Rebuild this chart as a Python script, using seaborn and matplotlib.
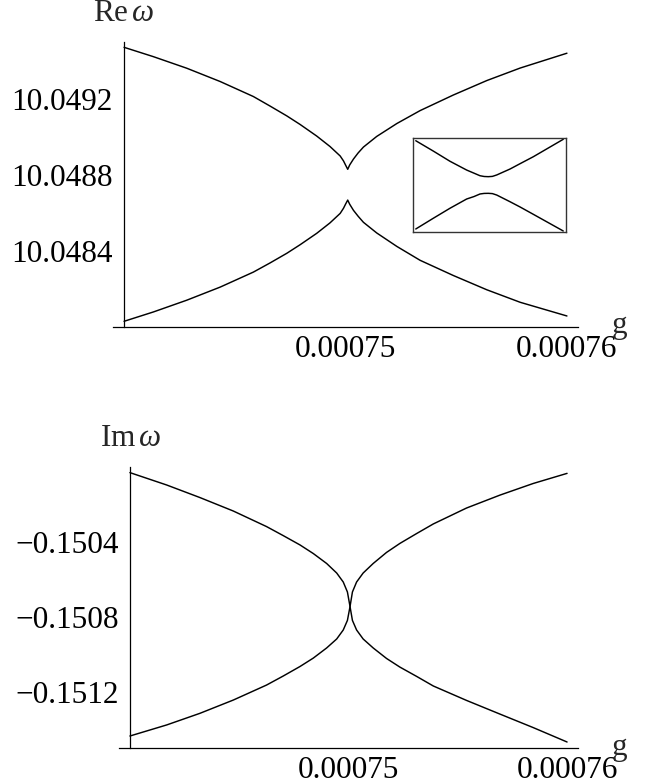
import matplotlib
matplotlib.use("Agg")
import matplotlib.pyplot as plt
import seaborn as sns
import pandas as pd

# ---------------- data ----------------
g_re = [0.00074000, 0.00074132, 0.00074283, 0.00074434, 0.00074584, 0.00074659,
        0.00074735, 0.00074795, 0.00074870, 0.00074930, 0.00074976, 0.00074991,
        0.00075000, 0.00075010, 0.00075019, 0.00075036, 0.00075057, 0.00075081,
        0.00075141, 0.00075232, 0.00075337, 0.00075487, 0.00075638, 0.00075789,
        0.00076000]
re_upper = [10.049472, 10.049423, 10.049362, 10.049292, 10.049213, 10.049163,
            10.049111, 10.049066, 10.049005, 10.048950, 10.048900, 10.048874,
            10.048853, 10.048830, 10.048853, 10.048884, 10.048916, 10.048947,
            10.049003, 10.049071, 10.049139, 10.049221, 10.049297, 10.049363,
            10.049441]
re_lower = [10.048030, 10.048079, 10.048141, 10.048210, 10.048289, 10.048337,
            10.048388, 10.048433, 10.048493, 10.048548, 10.048598, 10.048625,
            10.048646, 10.048668, 10.048646, 10.048614, 10.048583, 10.048551,
            10.048495, 10.048424, 10.048351, 10.048271, 10.048196, 10.048130,
            10.048058]

g_im = [0.00074000, 0.00074168, 0.00074320, 0.00074473, 0.00074625, 0.00074701,
        0.00074778, 0.00074839, 0.00074900, 0.00074946, 0.00074976, 0.00074995,
        0.00075007, 0.00075018, 0.00075037, 0.00075067, 0.00075113, 0.00075174,
        0.00075235, 0.00075312, 0.00075388, 0.00075540, 0.00075693, 0.00075845,
        0.00076000]
im_a = [-0.150030, -0.150096, -0.150163, -0.150235, -0.150318, -0.150366,
        -0.150416, -0.150462, -0.150515, -0.150566, -0.150614, -0.150667,
        -0.150745, -0.150819, -0.150870, -0.150918, -0.150966, -0.151022,
        -0.151068, -0.151118, -0.151169, -0.151246, -0.151319, -0.151391,
        -0.151468]
im_b = [-0.151436, -0.151377, -0.151315, -0.151244, -0.151164, -0.151116,
        -0.151065, -0.151020, -0.150966, -0.150918, -0.150870, -0.150819,
        -0.150745, -0.150667, -0.150614, -0.150566, -0.150515, -0.150456,
        -0.150408, -0.150355, -0.150304, -0.150219, -0.150150, -0.150088,
        -0.150034]

# inset (zoomed avoided crossing, relative units)
inset_x = [0.020, 0.134, 0.243, 0.352, 0.400, 0.439, 0.466, 0.493, 0.520,
           0.548, 0.635, 0.700, 0.787, 0.982]
inset_upper = [0.968, 0.859, 0.751, 0.658, 0.625, 0.598, 0.590, 0.588, 0.591,
               0.606, 0.669, 0.725, 0.799, 0.983]
inset_lower = [0.035, 0.148, 0.254, 0.352, 0.378, 0.405, 0.411, 0.412, 0.409,
               0.394, 0.323, 0.268, 0.190, 0.014]

re_ticks = [10.0484, 10.0488, 10.0492]
re_ticklabels = ["10.0484", "10.0488", "10.0492"]
im_ticks = [-0.1512, -0.1508, -0.1504]
im_ticklabels = ["\u22120.1512", "\u22120.1508", "\u22120.1504"]
g_ticks = [0.00075, 0.00076]
g_ticklabels = ["0.00075", "0.00076"]

# ---------------- style ----------------
sns.set_theme(style="white")
plt.rcParams["font.family"] = ["Liberation Serif", "DejaVu Serif"]
plt.rcParams["mathtext.fontset"] = "custom"
plt.rcParams["mathtext.rm"] = "Liberation Serif"
plt.rcParams["mathtext.it"] = "Liberation Serif:italic"

W, H = 646, 784
fig = plt.figure(figsize=(W / 100, H / 100), dpi=100)
fig.patch.set_facecolor("white")


def px_axes(x0, y0, x1, y1):
    return fig.add_axes([x0 / W, 1 - y1 / H, (x1 - x0) / W, (y1 - y0) / H])


FS = 22.5
LW = 1.05


def style_axes(ax, ylim, yticks, yticklabels):
    ax.set_facecolor("white")
    ax.set_xlim(0.0007395, 0.0007605)
    ax.set_ylim(*ylim)
    for s in ["top", "right"]:
        ax.spines[s].set_visible(False)
    ax.spines["left"].set_position(("data", 0.00074))
    for s in ["left", "bottom"]:
        ax.spines[s].set_color("black")
        ax.spines[s].set_linewidth(0.9)
    ax.set_xticks(g_ticks)
    ax.set_xticklabels(g_ticklabels)
    ax.set_yticks(yticks)
    ax.set_yticklabels(yticklabels)
    ax.tick_params(axis="both", direction="in", length=3, width=0.8,
                   colors="black", labelsize=FS)
    ax.tick_params(axis="x", pad=6)
    ax.tick_params(axis="y", pad=8)
    ax.set_xlabel("")
    ax.set_ylabel("")
    ax.grid(False)


# ---------------- top panel: Re omega ----------------
ax1 = px_axes(113, 42, 578, 327)
df_re = pd.DataFrame({"g": g_re + g_re,
                      "v": re_upper + re_lower,
                      "b": ["u"] * len(g_re) + ["l"] * len(g_re)})
sns.lineplot(data=df_re, x="g", y="v", units="b", estimator=None, sort=False,
             color="black", lw=LW, ax=ax1, legend=False)
style_axes(ax1, (10.0480, 10.0495), re_ticks, re_ticklabels)

# inset
axi = px_axes(412.7, 137.7, 566, 232.3)
df_in = pd.DataFrame({"x": inset_x + inset_x,
                      "v": inset_upper + inset_lower,
                      "b": ["u"] * len(inset_x) + ["l"] * len(inset_x)})
sns.lineplot(data=df_in, x="x", y="v", units="b", estimator=None, sort=False,
             color="black", lw=LW, ax=axi, legend=False)
axi.set_xlim(0, 1)
axi.set_ylim(0, 1)
axi.set_xticks([])
axi.set_yticks([])
axi.set_xlabel("")
axi.set_ylabel("")
axi.set_facecolor("white")
for s in axi.spines.values():
    s.set_visible(True)
    s.set_color("#333333")
    s.set_linewidth(1.0)

# ---------------- bottom panel: Im omega ----------------
ax2 = px_axes(119, 467, 578, 748)
df_im = pd.DataFrame({"g": g_im + g_im,
                      "v": im_a + im_b,
                      "b": ["a"] * len(g_im) + ["b"] * len(g_im)})
sns.lineplot(data=df_im, x="g", y="v", units="b", estimator=None, sort=False,
             color="black", lw=LW, ax=ax2, legend=False)
style_axes(ax2, (-0.1515, -0.1500), im_ticks, im_ticklabels)

# ---------------- axis labels ----------------
fig.text(124 / W, 1 - 21 / H, r"$\mathrm{Re}\,\omega$", ha="center",
         va="baseline", fontsize=FS)
fig.text(131 / W, 1 - 446 / H, r"$\mathrm{Im}\,\omega$", ha="center",
         va="baseline", fontsize=FS)
fig.text(612 / W, 1 - 333 / H, "g", ha="left", va="baseline", fontsize=FS)
fig.text(612 / W, 1 - 755 / H, "g", ha="left", va="baseline", fontsize=FS)

fig.savefig("out.png", dpi=100, facecolor="white")
